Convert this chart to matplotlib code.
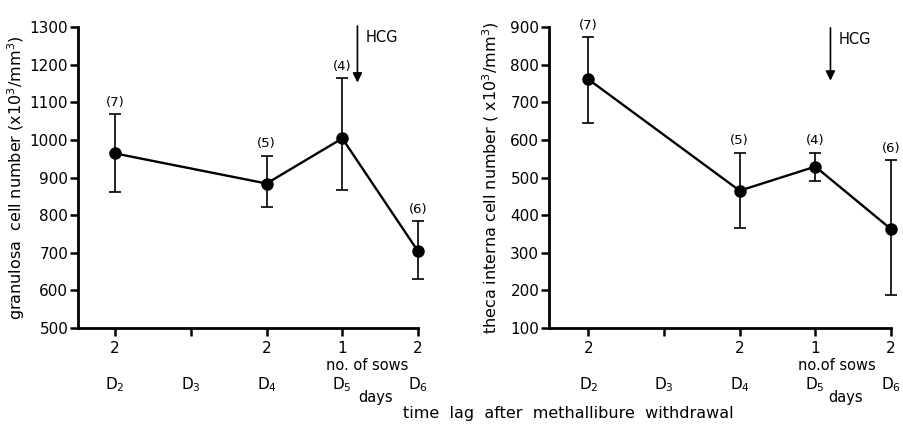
import numpy as np
import matplotlib.pyplot as plt

# Jours après retrait du methallibure
jours = [2, 4, 5, 6]
jours_labels = ["D$_2$", "D$_3$", "D$_4$", "D$_5$", "D$_6$"]
nb_truies = ["2", "", "2", "1", "2"]
effectifs = ["(7)", "(5)", "(4)", "(6)"]

# Granulosa (x10^3/mm^3)
granulosa_moy = [964, 884, 1004, 704]
granulosa_haut = [1068, 958, 1164, 784]
granulosa_bas = [862, 822, 868, 629]

# Theca interna (x10^3/mm^3)
theca_moy = [761, 465, 529, 363]
theca_haut = [873, 566, 566, 546]
theca_bas = [644, 367, 491, 188]

plt.rcParams['font.family'] = ['DejaVu Sans']
fig = plt.figure(figsize=(9.04, 4.28), dpi=100)

ax1 = fig.add_axes([0.0863, 0.2336, 0.3761, 0.7033])
ax2 = fig.add_axes([0.6073, 0.2336, 0.3783, 0.7033])

panneaux = [
    (ax1, granulosa_moy, granulosa_haut, granulosa_bas, (500, 1300), 1.51,
     "granulosa  cell number (x10$^3$/mm$^3$)", (1310, 1145), 5.44, 5.33),
    (ax2, theca_moy, theca_haut, theca_bas, (100, 900), 1.48,
     "theca interna cell number ( x10$^3$/mm$^3$)", (905, 750), 5.40, 5.29),
]

for ax, moy, haut, bas, ylim, xmin, ylabel, fleche, x_days, x_sows in panneaux:
    moy = np.array(moy)
    err = [moy - np.array(bas), np.array(haut) - moy]
    eb = ax.errorbar(jours, moy, yerr=err, fmt="none", ecolor="black",
                     elinewidth=1.2, capsize=4, capthick=1.2, zorder=2)
    for art in eb.lines[1] + eb.lines[2]:
        art.set_clip_on(False)
    ax.plot(jours, moy, color="black", lw=1.7, marker="o", ms=8,
            mfc="black", mec="black", zorder=3, clip_on=False)

    for x, h, lab in zip(jours, haut, effectifs):
        ax.annotate(lab, (x, h), xytext=(0, 4), textcoords="offset points",
                    ha="center", va="bottom", fontsize=9.5,
                    annotation_clip=False)

    ax.set_xlim(xmin, 6)
    ax.set_ylim(*ylim)
    ax.set_yticks(np.arange(ylim[0], ylim[1] + 1, 100))
    ax.set_xticks([2, 3, 4, 5, 6])
    ax.set_xticklabels(nb_truies)
    ax.tick_params(axis="both", direction="out", width=1.8, length=6,
                   labelsize=11, color="black")
    ax.tick_params(axis="y", pad=1)
    ax.spines["top"].set_visible(False)
    ax.spines["right"].set_visible(False)
    ax.spines["left"].set_linewidth(2)
    ax.spines["bottom"].set_linewidth(2)
    ax.set_ylabel(ylabel, fontsize=11.5, labelpad=2)
    ax.yaxis.set_label_coords(-0.15 if ax is ax1 else -0.14, 0.5)

    # Jours sous l'axe
    for x, lab in zip([2, 3, 4, 5, 6], jours_labels):
        ax.annotate(lab, (x, 0), xycoords=("data", "axes fraction"),
                    xytext=(0, -41), textcoords="offset points",
                    ha="center", va="center", fontsize=11,
                    annotation_clip=False)
    ax.annotate("no. of sows" if ax is ax1 else "no.of sows", (x_sows, 0),
                xycoords=("data", "axes fraction"), xytext=(0, -27),
                textcoords="offset points", ha="center", va="center",
                fontsize=10.5, annotation_clip=False)
    ax.annotate("days", (x_days, 0), xycoords=("data", "axes fraction"),
                xytext=(0, -50), textcoords="offset points",
                ha="center", va="center", fontsize=10.5, annotation_clip=False)

    # Flèche HCG
    ax.annotate("", xy=(5.2, fleche[1]), xytext=(5.2, fleche[0]),
                arrowprops=dict(arrowstyle="-|>", color="black", lw=1.2,
                                mutation_scale=14),
                annotation_clip=False)
    ax.annotate("HCG", (5.2, fleche[0]), xytext=(6, -10),
                textcoords="offset points", ha="left", va="center",
                fontsize=10.5, annotation_clip=False)

fig.text(0.629, 0.035, "time  lag  after  methallibure  withdrawal",
         ha="center", va="center", fontsize=11.5)

plt.savefig("out.png", dpi=100)
